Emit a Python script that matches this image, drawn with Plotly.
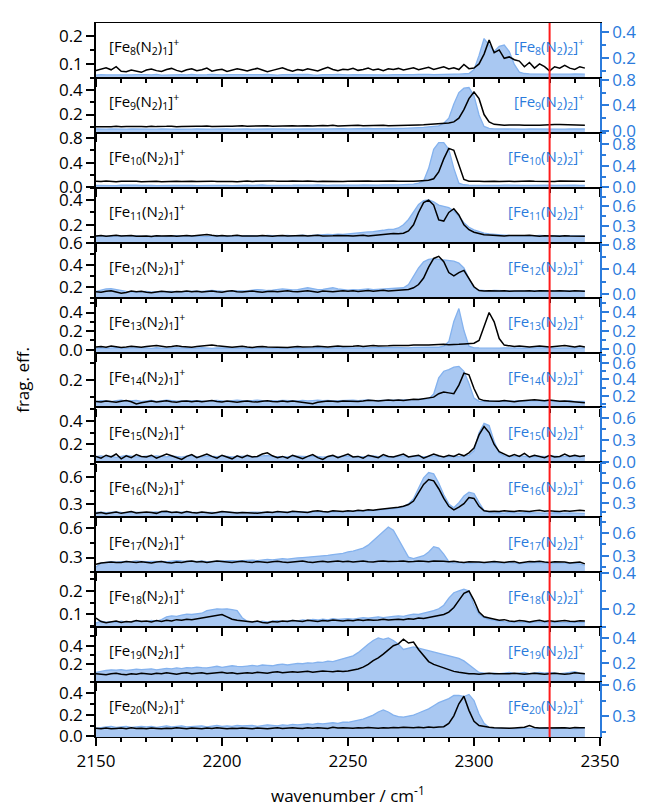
import numpy as np
import plotly.graph_objects as go

# ---------------- data ----------------
WN = [2150 + 2 * k for k in range(98)]  # wavenumber grid / cm-1 (2150 ... 2344)

SIZES = [8, 9, 10, 11, 12, 13, 14, 15, 16, 17, 18, 19, 20]

BLK08 = [.076,.080,.086,.079,.090,.074,.072,.078,.075,.070,
 .078,.082,.076,.073,.080,.084,.077,.072,.079,.083,
 .076,.079,.085,.074,.078,.081,.073,.077,.083,.079,
 .075,.080,.084,.078,.072,.077,.082,.086,.079,.074,
 .080,.077,.083,.079,.075,.082,.088,.080,.076,.081,
 .079,.084,.077,.080,.085,.078,.082,.076,.083,.080,
 .084,.078,.081,.086,.079,.083,.088,.080,.084,.090,
 .082,.086,.080,.098,.083,.085,.100,.135,.185,.140,
 .150,.120,.125,.115,.110,.090,.105,.085,.100,.090,
 .075,.090,.085,.095,.085,.080,.090,.085]
BLU08 = [.068,.072,.070,.069,.073,.071,.068,.070,.072,.069,
 .071,.070,.073,.068,.070,.072,.069,.071,.070,.073,
 .070,.068,.071,.073,.069,.070,.072,.070,.068,.071,
 .072,.070,.069,.071,.073,.070,.068,.071,.072,.070,
 .069,.071,.073,.070,.068,.072,.070,.071,.073,.069,
 .070,.072,.071,.069,.073,.070,.072,.071,.069,.072,
 .071,.073,.070,.072,.074,.071,.073,.072,.074,.075,
 .074,.076,.075,.078,.080,.110,.220,.350,.300,.250,
 .290,.300,.250,.150,.090,.080,.078,.077,.076,.075,
 .076,.075,.077,.076,.075,.077,.076,.075]

BLK09 = [.100,.098,.102,.100,.104,.099,.101,.103,.100,.102,
 .100,.104,.101,.099,.103,.105,.100,.102,.104,.101,
 .105,.103,.106,.102,.104,.107,.105,.103,.106,.108,
 .105,.107,.104,.106,.109,.105,.107,.110,.106,.108,
 .107,.110,.108,.106,.109,.111,.108,.112,.107,.109,
 .110,.108,.112,.109,.111,.113,.110,.112,.109,.111,
 .110,.112,.114,.113,.115,.116,.118,.120,.122,.125,
 .130,.140,.170,.240,.330,.385,.330,.200,.140,.120,
 .115,.113,.115,.112,.114,.113,.112,.114,.113,.115,
 .120,.119,.118,.117,.116,.115,.114,.113]
BLU09 = [.030,.026,.028,.032,.027,.030,.028,.031,.029,.026,
 .028,.031,.027,.030,.033,.029,.026,.030,.032,.028,
 .030,.033,.029,.027,.031,.034,.030,.028,.032,.035,
 .031,.029,.033,.036,.030,.032,.035,.031,.029,.033,
 .035,.032,.030,.034,.037,.033,.031,.035,.038,.034,
 .032,.036,.033,.035,.038,.034,.037,.035,.033,.036,
 .038,.040,.042,.045,.050,.055,.065,.070,.080,.120,
 .200,.420,.600,.670,.680,.550,.250,.070,.040,.032,
 .030,.032,.030,.028,.031,.029,.032,.030,.028,.031,
 .030,.028,.031,.029,.032,.030,.028,.030]

BLK10 = [.100,.095,.105,.098,.092,.100,.104,.097,.101,.094,
 .099,.106,.100,.093,.098,.104,.100,.096,.103,.099,
 .095,.100,.107,.102,.096,.100,.105,.098,.094,.100,
 .104,.098,.101,.095,.100,.106,.099,.094,.100,.103,
 .097,.100,.105,.099,.095,.101,.098,.104,.100,.096,
 .100,.103,.097,.100,.105,.099,.102,.096,.100,.104,
 .100,.097,.102,.100,.104,.108,.115,.140,.250,.460,
 .630,.600,.350,.130,.100,.105,.100,.097,.102,.100,
 .098,.103,.100,.096,.101,.099,.104,.100,.097,.101,
 .100,.098,.103,.100,.097,.101,.099,.102]
BLU10 = [.040,.036,.044,.040,.035,.042,.045,.038,.041,.037,
 .043,.039,.035,.041,.046,.040,.037,.042,.044,.039,
 .036,.041,.045,.040,.038,.043,.039,.036,.042,.045,
 .041,.037,.043,.046,.040,.038,.044,.041,.037,.042,
 .045,.040,.038,.043,.047,.041,.039,.044,.042,.046,
 .043,.040,.045,.048,.042,.046,.044,.049,.045,.050,
 .048,.052,.055,.062,.080,.120,.350,.700,.820,.820,
 .700,.350,.080,.050,.045,.042,.040,.042,.038,.041,
 .040,.043,.039,.041,.044,.040,.038,.042,.040,.043,
 .041,.039,.042,.040,.043,.041,.039,.040]

BLK11 = [.110,.113,.108,.112,.115,.109,.111,.114,.108,.112,
 .110,.106,.112,.109,.113,.111,.107,.110,.114,.109,
 .112,.118,.122,.115,.110,.113,.109,.112,.116,.110,
 .108,.112,.109,.113,.110,.107,.111,.114,.109,.112,
 .110,.113,.109,.111,.115,.110,.108,.112,.114,.110,
 .112,.109,.113,.115,.110,.114,.118,.124,.128,.130,
 .128,.132,.150,.200,.300,.380,.400,.360,.240,.230,
 .300,.330,.280,.200,.160,.140,.130,.120,.118,.115,
 .113,.110,.114,.112,.109,.113,.115,.111,.108,.112,
 .114,.110,.108,.112,.109,.107,.110,.108]
BLU11 = [.140,.150,.145,.138,.152,.147,.140,.145,.150,.142,
 .146,.140,.150,.145,.138,.148,.152,.144,.140,.147,
 .150,.145,.140,.148,.155,.146,.140,.150,.145,.148,
 .152,.146,.150,.145,.155,.150,.148,.152,.158,.150,
 .155,.160,.152,.158,.165,.160,.170,.168,.175,.170,
 .180,.185,.190,.200,.210,.215,.220,.235,.250,.250,
 .270,.320,.400,.520,.630,.690,.700,.670,.620,.600,
 .580,.530,.450,.350,.280,.240,.210,.190,.180,.170,
 .165,.160,.155,.158,.150,.152,.148,.150,.155,.150,
 .148,.152,.150,.155,.150,.148,.145,.148]

BLK12 = [.155,.150,.158,.162,.152,.140,.148,.160,.153,.158,
 .150,.145,.152,.158,.155,.149,.157,.153,.160,.155,
 .158,.152,.156,.160,.154,.150,.158,.162,.155,.152,
 .157,.161,.155,.150,.156,.159,.153,.157,.162,.156,
 .153,.158,.163,.156,.150,.160,.157,.154,.159,.163,
 .158,.162,.156,.160,.165,.159,.163,.167,.160,.165,
 .168,.170,.175,.190,.220,.280,.380,.460,.480,.430,
 .330,.300,.330,.350,.280,.200,.165,.160,.162,.158,
 .160,.163,.158,.161,.157,.160,.164,.159,.162,.160,
 .158,.161,.163,.160,.158,.162,.160,.159]
BLU12 = [.040,.060,.080,.085,.070,.050,.040,.035,.030,.035,
 .040,.030,.035,.040,.045,.040,.035,.040,.045,.050,
 .045,.040,.050,.055,.050,.045,.040,.050,.055,.050,
 .050,.060,.070,.065,.055,.060,.070,.080,.075,.065,
 .070,.090,.100,.085,.070,.075,.090,.100,.080,.070,
 .060,.070,.065,.075,.080,.070,.075,.085,.080,.085,
 .090,.100,.150,.280,.420,.520,.560,.570,.560,.540,
 .530,.530,.500,.420,.250,.100,.060,.050,.050,.055,
 .050,.055,.050,.045,.050,.055,.050,.048,.052,.050,
 .050,.048,.052,.050,.047,.050,.052,.050]

BLK13 = [.030,.035,.028,.040,.033,.025,.030,.038,.032,.027,
 .035,.040,.045,.038,.030,.035,.042,.036,.030,.028,
 .034,.040,.045,.050,.042,.035,.030,.027,.033,.038,
 .030,.025,.032,.036,.030,.028,.034,.030,.025,.030,
 .035,.030,.028,.033,.038,.032,.030,.035,.040,.036,
 .033,.038,.042,.036,.040,.045,.040,.038,.042,.046,
 .043,.048,.045,.050,.047,.052,.050,.055,.052,.058,
 .055,.060,.058,.062,.065,.070,.100,.250,.400,.300,
 .120,.050,.040,.035,.040,.035,.030,.035,.040,.035,
 .030,.035,.040,.045,.038,.030,.040,.030]
BLU13 = [.008,.012,.006,.010,.014,.009,.005,.011,.013,.008,
 .010,.006,.012,.009,.005,.011,.014,.010,.007,.012,
 .009,.013,.008,.006,.011,.010,.014,.009,.006,.012,
 .010,.007,.011,.013,.009,.006,.012,.010,.008,.013,
 .011,.008,.006,.012,.014,.010,.007,.011,.013,.009,
 .012,.010,.008,.013,.011,.015,.012,.010,.014,.016,
 .013,.015,.012,.016,.018,.014,.017,.020,.018,.030,
 .080,.300,.440,.200,.030,.012,.010,.008,.012,.010,
 .008,.011,.009,.012,.010,.007,.011,.013,.009,.010,
 .012,.009,.011,.010,.008,.012,.010,.009]

BLK14 = [.075,.072,.078,.074,.070,.076,.080,.073,.060,.068,
 .074,.078,.072,.075,.079,.073,.071,.076,.078,.074,
 .077,.073,.076,.080,.075,.072,.078,.074,.070,.075,
 .078,.074,.072,.076,.079,.075,.073,.077,.074,.078,
 .075,.072,.068,.062,.070,.074,.078,.076,.073,.077,
 .076,.079,.075,.078,.082,.080,.077,.081,.084,.080,
 .083,.080,.085,.088,.086,.090,.095,.100,.120,.130,
 .125,.120,.170,.240,.230,.150,.090,.080,.078,.076,
 .076,.080,.078,.074,.077,.080,.083,.085,.082,.079,
 .083,.080,.076,.078,.075,.072,.070,.068]
BLU14 = [.130,.140,.135,.128,.140,.145,.132,.138,.142,.130,
 .136,.142,.130,.138,.145,.140,.133,.137,.140,.135,
 .140,.135,.130,.138,.142,.136,.130,.140,.145,.138,
 .135,.140,.145,.138,.132,.140,.135,.142,.138,.140,
 .137,.142,.135,.140,.145,.138,.142,.136,.140,.143,
 .140,.145,.138,.142,.148,.140,.143,.147,.142,.145,
 .145,.150,.148,.152,.155,.160,.160,.220,.420,.500,
 .520,.550,.560,.500,.350,.170,.130,.130,.135,.130,
 .130,.135,.128,.132,.138,.130,.135,.140,.135,.132,
 .136,.130,.128,.133,.138,.130,.128,.130]

BLK15 = [.100,.085,.110,.095,.120,.080,.105,.090,.115,.100,
 .095,.110,.085,.100,.120,.105,.090,.075,.100,.115,
 .090,.105,.120,.100,.085,.110,.095,.080,.105,.090,
 .110,.095,.100,.120,.130,.105,.090,.100,.085,.110,
 .095,.080,.100,.115,.090,.075,.100,.110,.090,.105,
 .120,.095,.100,.085,.110,.100,.090,.115,.100,.095,
 .105,.120,.095,.100,.110,.085,.100,.120,.105,.095,
 .110,.100,.120,.105,.130,.170,.280,.350,.300,.200,
 .140,.120,.100,.115,.100,.125,.095,.110,.100,.090,
 .110,.095,.100,.120,.100,.110,.100,.105]
BLU15 = [.070,.080,.065,.075,.060,.070,.085,.075,.065,.070,
 .075,.068,.080,.072,.065,.078,.070,.062,.075,.082,
 .070,.065,.078,.072,.068,.080,.074,.066,.072,.078,
 .075,.070,.066,.080,.085,.074,.068,.072,.065,.078,
 .072,.066,.070,.078,.072,.064,.070,.076,.070,.074,
 .078,.070,.074,.066,.072,.078,.070,.076,.072,.068,
 .074,.080,.070,.072,.078,.066,.072,.080,.074,.070,
 .070,.075,.070,.080,.090,.150,.400,.530,.500,.280,
 .120,.080,.075,.070,.080,.072,.068,.075,.070,.065,
 .070,.075,.068,.072,.070,.066,.070,.072]

BLK16 = [.190,.200,.185,.195,.205,.190,.200,.210,.195,.200,
 .205,.200,.190,.210,.215,.200,.205,.195,.210,.200,
 .195,.205,.200,.190,.200,.210,.205,.200,.195,.200,
 .200,.195,.190,.200,.205,.200,.210,.205,.200,.215,
 .210,.205,.200,.215,.220,.210,.205,.220,.215,.210,
 .220,.215,.225,.220,.230,.225,.235,.240,.245,.250,
 .260,.270,.290,.330,.420,.520,.575,.560,.470,.360,
 .270,.230,.260,.300,.370,.360,.270,.220,.210,.215,
 .210,.220,.215,.210,.220,.215,.210,.220,.225,.215,
 .220,.215,.210,.220,.215,.220,.225,.220]
BLU16 = [.150,.155,.148,.152,.158,.150,.145,.152,.156,.150,
 .148,.153,.157,.150,.146,.152,.155,.149,.153,.150,
 .152,.148,.155,.150,.146,.153,.157,.151,.148,.154,
 .150,.155,.152,.148,.156,.153,.150,.155,.158,.152,
 .155,.158,.153,.157,.160,.155,.158,.162,.157,.160,
 .160,.155,.165,.170,.175,.180,.185,.190,.200,.210,
 .220,.240,.280,.360,.520,.680,.760,.740,.600,.420,
 .280,.220,.300,.400,.460,.440,.300,.180,.150,.140,
 .145,.140,.150,.145,.140,.148,.145,.140,.145,.142,
 .140,.145,.140,.138,.142,.140,.138,.135]

BLK17 = [.230,.245,.250,.255,.248,.250,.260,.255,.250,.258,
 .250,.245,.255,.260,.250,.245,.255,.250,.260,.265,
 .255,.260,.250,.255,.265,.260,.255,.250,.258,.262,
 .255,.250,.260,.255,.250,.258,.262,.255,.250,.255,
 .260,.265,.255,.250,.258,.262,.255,.260,.265,.258,
 .262,.255,.260,.265,.258,.255,.262,.265,.260,.258,
 .262,.265,.258,.260,.265,.262,.258,.265,.260,.262,
 .258,.262,.255,.250,.258,.260,.255,.250,.258,.260,
 .255,.250,.258,.260,.245,.255,.260,.258,.262,.255,
 .250,.258,.260,.255,.245,.250,.255,.235]
BLU17 = [.150,.200,.210,.220,.215,.220,.225,.220,.230,.225,
 .220,.225,.230,.225,.220,.230,.235,.230,.225,.230,
 .225,.230,.220,.225,.230,.225,.230,.235,.230,.235,
 .235,.240,.235,.245,.250,.245,.250,.260,.255,.265,
 .270,.275,.280,.285,.290,.300,.305,.315,.320,.330,
 .350,.360,.380,.400,.440,.500,.560,.630,.680,.640,
 .520,.380,.280,.260,.280,.300,.350,.420,.400,.320,
 .220,.200,.210,.200,.205,.200,.210,.205,.200,.210,
 .200,.205,.210,.200,.195,.205,.200,.210,.205,.200,
 .205,.200,.195,.200,.205,.200,.190,.170]

BLK18 = [.085,.070,.065,.068,.072,.066,.070,.068,.074,.070,
 .072,.068,.074,.070,.075,.072,.078,.075,.080,.078,
 .082,.085,.088,.092,.098,.100,.090,.080,.075,.072,
 .070,.068,.072,.066,.064,.070,.068,.072,.070,.074,
 .072,.070,.075,.073,.070,.074,.072,.076,.074,.072,
 .075,.073,.077,.074,.078,.075,.077,.080,.076,.078,
 .080,.078,.082,.080,.085,.083,.087,.090,.095,.100,
 .110,.130,.160,.190,.200,.160,.110,.090,.085,.080,
 .075,.078,.072,.070,.074,.072,.068,.072,.075,.070,
 .073,.070,.072,.074,.071,.070,.073,.072]
BLU18 = [.120,.130,.125,.128,.122,.130,.125,.128,.132,.130,
 .128,.135,.130,.140,.155,.160,.158,.165,.170,.168,
 .170,.175,.190,.195,.200,.198,.200,.195,.190,.150,
 .130,.128,.125,.130,.127,.130,.133,.128,.132,.135,
 .132,.138,.135,.140,.137,.142,.138,.145,.140,.143,
 .145,.142,.148,.150,.147,.152,.155,.150,.156,.158,
 .160,.158,.165,.170,.168,.175,.180,.190,.200,.220,
 .260,.290,.300,.310,.300,.220,.170,.150,.140,.135,
 .130,.128,.125,.127,.124,.126,.123,.125,.127,.124,
 .125,.123,.126,.124,.122,.125,.123,.124]

BLK19 = [.100,.095,.090,.100,.105,.095,.090,.100,.095,.105,
 .100,.095,.105,.100,.110,.100,.095,.105,.110,.100,
 .105,.110,.100,.105,.110,.115,.105,.110,.100,.105,
 .110,.105,.115,.110,.105,.115,.120,.110,.115,.120,
 .115,.120,.125,.115,.120,.130,.125,.120,.130,.125,
 .130,.140,.150,.170,.200,.240,.270,.310,.350,.400,
 .420,.470,.430,.440,.360,.300,.230,.200,.180,.160,
 .140,.125,.115,.105,.100,.100,.095,.100,.105,.100,
 .100,.095,.100,.105,.100,.095,.100,.105,.100,.095,
 .100,.105,.100,.095,.100,.110,.105,.100]
BLU19 = [.130,.140,.145,.150,.148,.152,.145,.150,.155,.152,
 .155,.158,.150,.155,.162,.158,.165,.160,.168,.165,
 .172,.168,.165,.172,.178,.170,.175,.182,.178,.175,
 .180,.185,.180,.188,.185,.182,.190,.195,.188,.195,
 .200,.198,.205,.202,.210,.208,.218,.215,.225,.235,
 .245,.260,.285,.320,.350,.380,.400,.390,.400,.380,
 .350,.310,.320,.330,.320,.310,.300,.290,.280,.270,
 .260,.250,.240,.220,.190,.160,.130,.125,.120,.125,
 .120,.125,.130,.120,.125,.130,.120,.125,.130,.125,
 .130,.125,.120,.125,.130,.135,.125,.120]

BLK20 = [.075,.072,.078,.070,.074,.077,.071,.079,.073,.076,
 .072,.078,.074,.070,.076,.073,.080,.074,.071,.077,
 .074,.070,.077,.073,.079,.075,.071,.076,.073,.078,
 .075,.072,.078,.074,.070,.076,.079,.073,.077,.080,
 .076,.073,.079,.075,.080,.077,.074,.085,.078,.080,
 .078,.075,.080,.077,.082,.079,.076,.081,.078,.083,
 .080,.085,.082,.079,.084,.081,.086,.083,.088,.090,
 .120,.190,.300,.370,.240,.140,.100,.090,.085,.080,
 .076,.079,.075,.078,.080,.085,.100,.082,.078,.079,
 .077,.075,.078,.080,.076,.082,.079,.080]
BLU20 = [.180,.190,.195,.200,.190,.195,.200,.190,.195,.200,
 .195,.200,.190,.200,.205,.195,.200,.205,.195,.200,
 .200,.205,.195,.200,.210,.200,.205,.200,.210,.205,
 .205,.210,.200,.205,.215,.210,.205,.215,.210,.220,
 .215,.220,.225,.220,.230,.225,.230,.235,.230,.240,
 .240,.250,.260,.270,.290,.310,.340,.360,.340,.310,
 .295,.290,.300,.310,.330,.350,.370,.400,.430,.450,
 .470,.500,.500,.490,.510,.450,.320,.230,.190,.180,
 .180,.185,.180,.175,.180,.185,.180,.175,.180,.185,
 .180,.175,.180,.185,.180,.175,.180,.185]

BLACK = [BLK08, BLK09, BLK10, BLK11, BLK12, BLK13, BLK14,
         BLK15, BLK16, BLK17, BLK18, BLK19, BLK20]
BLUE = [BLU08, BLU09, BLU10, BLU11, BLU12, BLU13, BLU14,
        BLU15, BLU16, BLU17, BLU18, BLU19, BLU20]

MARKER_LINE = 2330  # cm-1

# ---------------- axis configuration (style) ----------------
# (left range, left major ticks, left minor step, right range, right major ticks, right minor step)
AXES = [
    ([0.05, 0.246], [0.1, 0.2], 0.05, [0.046, 0.47], [0.2, 0.4], 0.1),
    ([0.05, 0.50], [0.2, 0.4], 0.1, [-0.03, 0.83], [0.0, 0.4, 0.8], 0.2),
    ([-0.005, 0.88], [0.0, 0.4, 0.8], 0.2, [-0.005, 1.0], [0.0, 0.4, 0.8], 0.2),
    ([0.055, 0.50], [0.2, 0.4], 0.1, [0.045, 0.885], [0.3, 0.6], 0.15),
    ([0.10, 0.605], [0.2, 0.4, 0.6], 0.1, [-0.06, 0.83], [0.0, 0.4, 0.8], 0.2),
    ([-0.03, 0.56], [0.0, 0.2, 0.4], 0.1, [-0.04, 0.56], [0.0, 0.2, 0.4], 0.1),
    ([0.04, 0.36], [0.2], 0.1, [0.055, 0.73], [0.2, 0.4, 0.6], 0.1),
    ([0.05, 0.51], [0.2, 0.4], 0.1, [-0.01, 0.75], [0.0, 0.3, 0.6], 0.15),
    ([0.145, 0.77], [0.3, 0.6], 0.15, [0.075, 0.915], [0.3, 0.6], 0.15),
    ([0.15, 0.71], [0.3, 0.6], 0.15, [0.08, 0.81], [0.3, 0.6], 0.15),
    ([0.046, 0.28], [0.1, 0.2], 0.05, [0.097, 0.405], [0.2, 0.4], 0.1),
    ([0.01, 0.60], [0.2, 0.4], 0.1, [0.054, 0.485], [0.2, 0.4], 0.1),
    ([-0.005, 0.50], [0.0, 0.2, 0.4], 0.1, [0.097, 0.63], [0.3, 0.6], 0.15),
]

FONT = "Open Sans"
BLUE_TXT = "#2b7bdc"
FILL = "#a9c8f2"
EDGE = "#84b2ee"
W, Hpx = 648, 809
ML, MR, MT, MB = 96, 46, 14, 72
PH = Hpx - MT - MB


def minor_vals(rng, step):
    lo = np.ceil(rng[0] / step - 1e-9) * step
    return [round(v, 4) for v in np.arange(lo, rng[1] + 1e-9, step)]


fig = go.Figure()
n = len(SIZES)
layout = {}
annotations = []
for i in range(n):
    top = 1 - i / n
    bot = 1 - (i + 1) / n
    xa = f"x{i + 1}"
    yr = f"y{i + 1}"
    yl = f"y{i + 1 + n}"
    lrng, lmaj, lmin, rrng, rmaj, rmin = AXES[i]
    blk = BLACK[i]
    blu = BLUE[i]
    xb = WN[:len(blu)]
    xk = WN[:len(blk)]
    # baseline for filling to the bottom of the panel
    fig.add_trace(go.Scatter(x=xb, y=[rrng[0]] * len(xb), xaxis=xa, yaxis=yr,
                             mode="lines", line=dict(width=0, color=EDGE),
                             hoverinfo="skip", showlegend=False))
    fig.add_trace(go.Scatter(x=xb, y=blu, xaxis=xa, yaxis=yr, mode="lines",
                             fill="tonexty", fillcolor=FILL,
                             line=dict(color=EDGE, width=1.3), showlegend=False))
    fig.add_trace(go.Scatter(x=xk, y=blk, xaxis=xa, yaxis=yl, mode="lines",
                             line=dict(color="black", width=1.5), showlegend=False))

    xdict = dict(domain=[0, 1], anchor=yr, range=[2150, 2350],
                 showline=True, linecolor="black", linewidth=1.3, mirror=True,
                 ticks="outside", tickmode="array",
                 tickvals=[2150, 2200, 2250, 2300, 2350], ticklen=8, tickwidth=1.5,
                 tickcolor="black",
                 minor=dict(tickmode="array", tickvals=list(range(2160, 2350, 10)),
                            ticks="outside", ticklen=4, tickwidth=1.5, tickcolor="black"),
                 showticklabels=(i == n - 1), showgrid=False, zeroline=False,
                 tickfont=dict(family=FONT, size=17, color="black"))
    if i > 0:
        xdict["matches"] = "x"
    layout["xaxis" if i == 0 else f"xaxis{i + 1}"] = xdict

    layout["yaxis" if i == 0 else f"yaxis{i + 1}"] = dict(
        domain=[bot, top], anchor=xa, side="right", range=rrng,
        tickmode="array", tickvals=rmaj, ticktext=[f"{v:.1f}" for v in rmaj],
        showline=True, linecolor=BLUE_TXT, linewidth=1.5,
        ticks="outside", ticklen=7, tickwidth=1.5, tickcolor=BLUE_TXT,
        minor=dict(tickmode="array", tickvals=minor_vals(rrng, rmin),
                   ticks="outside", ticklen=4, tickwidth=1.5, tickcolor=BLUE_TXT),
        showgrid=False, zeroline=False,
        tickfont=dict(family=FONT, size=17, color=BLUE_TXT))

    layout[f"yaxis{i + 1 + n}"] = dict(
        overlaying=yr, anchor=xa, side="left", range=lrng,
        tickmode="array", tickvals=lmaj, ticktext=[f"{v:.1f}" for v in lmaj],
        showline=True, linecolor="black", linewidth=1.5,
        ticks="outside", ticklen=8, tickwidth=1.5, tickcolor="black",
        minor=dict(tickmode="array", tickvals=minor_vals(lrng, lmin),
                   ticks="outside", ticklen=4, tickwidth=1.5, tickcolor="black"),
        showgrid=False, zeroline=False,
        tickfont=dict(family=FONT, size=17, color="black"))

    ylab = top - 24 / PH
    s = SIZES[i]
    annotations.append(dict(
        text=f"[Fe<sub>{s}</sub>(N<sub>2</sub>)<sub>1</sub>]<sup>+</sup>",
        xref="paper", yref="paper", x=0.022, y=ylab, xanchor="left", yanchor="middle",
        showarrow=False, font=dict(family=FONT, size=15, color="black")))
    annotations.append(dict(
        text=f"[Fe<sub>{s}</sub>(N<sub>2</sub>)<sub>2</sub>]<sup>+</sup>",
        xref="paper", yref="paper", x=0.972, y=ylab, xanchor="right", yanchor="middle",
        showarrow=False, font=dict(family=FONT, size=15, color=BLUE_TXT)))

annotations.append(dict(text="frag. eff.", xref="paper", yref="paper",
                        x=(22 - ML) / (W - ML - MR), y=1 - (375 - MT) / PH,
                        xanchor="center", yanchor="middle", textangle=-90, showarrow=False,
                        font=dict(family=FONT, size=17, color="black")))
annotations.append(dict(text="wavenumber / cm<sup>-1</sup>", xref="paper", yref="paper",
                        x=0.5, y=-(795 - (Hpx - MB)) / PH,
                        xanchor="center", yanchor="middle", showarrow=False,
                        font=dict(family=FONT, size=17, color="black")))

fig.update_layout(
    width=W, height=Hpx,
    margin=dict(l=ML, r=MR, t=MT, b=MB),
    paper_bgcolor="white", plot_bgcolor="white",
    showlegend=False,
    annotations=annotations,
    shapes=[dict(type="line", xref="x", yref="paper", x0=MARKER_LINE, x1=MARKER_LINE,
                 y0=0, y1=1, line=dict(color="#ff1a1a", width=2), layer="above")],
    **layout,
)

fig.write_html("out.html")
